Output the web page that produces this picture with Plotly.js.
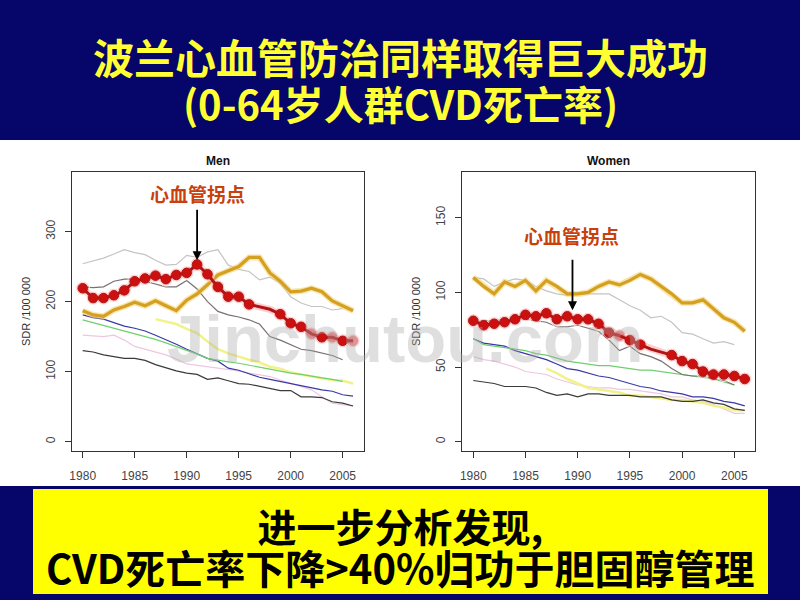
<!DOCTYPE html>
<html><head><meta charset="utf-8">
<script src="https://cdn.plot.ly/plotly-3.0.1.min.js"></script>
<style>body{margin:0;background:#fff}#chart{width:800px;height:600px}</style>
</head><body><div id="chart"></div>
<script>
// ---------- data ----------
const years = [1980,1981,1982,1983,1984,1985,1986,1987,1988,1989,1990,1991,1992,1993,1994,1995,1996,1997,1998,1999,2000,2001,2002,2003,2004,2005,2006];
const xTicks = [1980,1985,1990,1995,2000,2005];
const menYTicks = [0,100,200,300];
const womenYTicks = [0,50,100,150];

// Men (SDR per 100 000)
const menPoland   = [219,205,205,209,216,229,233,237,232,238,241,253,239,221,207,207,196,193,189,182,169,164,154,149,149,144,144];
const menOrange   = [187,181,179,188,193,199,194,201,194,187,202,211,224,238,244,250,263,263,241,229,214,215,219,214,201,194,187];
const menLtGray   = [254,258,262,268,274,270,267,259,252,253,266,263,271,274,252,246,243,231,235,226,207,198,193,193,188,190,null];
const menDkGray   = [221,220,221,229,232,232,229,225,221,221,230,218,200,186,181,178,174,168,150,145,138,132,130,126,123,117,null];
const menYellow   = [null,null,null,null,null,null,null,175,172,168,161,155,143,132,126,121,117,113,107,104,99,96,93,91,88,87,83];
const menGreen    = [174,170,166,162,158,155,151,146,141,136,131,125,119,116,114,112,109,106,103,101,98,96,93,91,89,86,null];
const menBlue     = [181,177,175,170,165,162,158,152,146,139,132,126,119,115,105,102,97,92,89,86,82,79,76,74,72,67,65];
const menPink     = [152,151,150,152,145,136,132,128,124,118,111,109,107,105,104,101,98,95,93,88,83,79,74,64,55,53,51];
const menBlack    = [130,128,124,122,119,119,116,110,105,101,98,96,89,91,87,83,82,79,76,73,73,64,64,63,57,55,51];

// Women (SDR per 100 000)
const womenPoland = [81,78,79,80,82,85,84,86,82,84,82,82,79,73,71,68,65,62,60,58,54,52,47,45,45,44,42];
const womenOrange = [110,104,99,107,104,108,101,108,104,99,99,100,104,107,105,108,112,109,104,99,93,93,95,89,83,80,74];
const womenLtGray = [110,109,104,107,109,108,104,101,99,98,99,99,99,99,95,91,88,83,84,80,73,72,69,66,67,65,null];
const womenDkGray = [80,81,81,82,82,82,81,80,77,77,78,76,74,68,61,64,59,57,54,49,45,44,44,42,41,38,null];
const womenGreen  = [69,65,64,63,62,61,59,58,56,54,53,52,51,51,50,49,48,48,47,46,45,44,43,42,40,38,null];
const womenBlue   = [69,66,65,64,61,59,57,55,52,49,48,46,44,43,41,39,37,36,34,33,32,30,30,29,27,26,24];
const womenPink   = [57,55,54,52,50,47,46,45,42,40,38,37,36,36,35,35,34,33,32,30,30,28,27,25,22,19,19];
const womenYellow = [null,null,null,null,null,null,null,49,46,42,39,36,35,34,33,31,31,30,29,28,28,27,26,24,23,21,21];
const womenBlack  = [41,40,39,37,37,37,36,33,31,32,30,32,32,31,31,31,30,30,30,28,27,27,28,26,25,22,21];

const menPeakYear = 1991, womenPeakYear = 1989.5;
const labelTurn = '心血管拐点';
const titleLines = ['波兰心血管防治同样取得巨大成功', '(0-64岁人群CVD死亡率)'];
const noteLines = ['进一步分析发现,', 'CVD死亡率下降>40%归功于胆固醇管理'];

// ---------- drawing ----------
function ln(y, color, width, xa, ya) {
  return {x: years, y: y, type: 'scatter', mode: 'lines', xaxis: xa, yaxis: ya,
    line: {color: color, width: width}, hoverinfo: 'skip', connectgaps: false};
}
function polandTraces(y, xa, ya, fadedYears) {
  const noDot = [1997, 1998];
  const sizes = years.map(v => noDot.includes(v) ? 0 : 9.5);
  const glow = years.map(v => noDot.includes(v) ? 0 : 14);
  const op = years.map(v => fadedYears.includes(v) ? 0.35 : 1);
  return [
    {x: years, y: y, type: 'scatter', mode: 'lines', xaxis: xa, yaxis: ya,
      line: {color: 'rgba(255,130,130,0.4)', width: 7}, hoverinfo: 'skip'},
    {x: years, y: y, type: 'scatter', mode: 'markers', xaxis: xa, yaxis: ya,
      marker: {size: glow, color: 'rgba(255,110,110,0.45)'}, hoverinfo: 'skip'},
    {x: years, y: y, type: 'scatter', mode: 'lines+markers', xaxis: xa, yaxis: ya,
      line: {color: '#b01515', width: 3},
      marker: {size: sizes, color: '#cc1010', opacity: op}, hoverinfo: 'skip'}
  ];
}
function group(d, xa, ya, faded) {
  return [
    ln(d.ltgray, '#c4c4c4', 1.2, xa, ya),
    ln(d.pink, '#efc6e0', 1.2, xa, ya),
    ln(d.yellow, '#f2f28a', 2.5, xa, ya),
    ln(d.black, '#3a3a3a', 1.2, xa, ya),
    ln(d.blue, '#3838a8', 1.2, xa, ya),
    ln(d.green, '#6fcf6f', 1.2, xa, ya),
    ln(d.dkgray, '#7a7070', 1.2, xa, ya),
    ln(d.orange, 'rgba(245,210,120,0.6)', 6, xa, ya),
    ln(d.orange, '#d4a020', 3.2, xa, ya),
    ...polandTraces(d.poland, xa, ya, faded)
  ];
}
const data = [
  ...group({ltgray: menLtGray, pink: menPink, yellow: menYellow, black: menBlack, blue: menBlue,
            green: menGreen, dkgray: menDkGray, orange: menOrange, poland: menPoland}, 'x', 'y', [2002, 2004, 2006]),
  ...group({ltgray: womenLtGray, pink: womenPink, yellow: womenYellow, black: womenBlack, blue: womenBlue,
            green: womenGreen, dkgray: womenDkGray, orange: womenOrange, poland: womenPoland}, 'x2', 'y2', [1994])
];

const tickFont = {family: 'Liberation Sans, Arial, sans-serif', size: 12, color: '#444'};
function xax(domain, range, anchor) {
  return {domain: domain, range: range, anchor: anchor, tickvals: xTicks, ticks: 'outside', ticklen: 6,
    tickcolor: '#333', showline: true, mirror: true, linecolor: '#333', linewidth: 1, showgrid: false,
    zeroline: false, tickfont: tickFont, ticklabelstandoff: 8, fixedrange: true};
}
function yax(domain, range, anchor, tv) {
  return {domain: domain, range: range, anchor: anchor, tickvals: tv, ticks: 'outside', ticklen: 6,
    tickcolor: '#333', showline: true, mirror: true, linecolor: '#333', linewidth: 1, showgrid: false,
    zeroline: false, tickangle: -90, tickfont: tickFont, ticklabelstandoff: 5, fixedrange: true,
    title: {text: 'SDR /100 000', font: {family: 'Liberation Sans, Arial, sans-serif', size: 11, color: '#333'}, standoff: 11}};
}
const yDom = [1 - 451/600, 1 - 172/600];
const navy = '#05056a';
const cjk = '"Noto Sans CJK SC", sans-serif';

const layout = {
  width: 800, height: 600, margin: {l: 0, r: 0, t: 0, b: 0},
  paper_bgcolor: '#ffffff', plot_bgcolor: '#ffffff', showlegend: false,
  xaxis: xax([72/800, 364/800], [1978.97, 2007.05], 'y'),
  yaxis: yax(yDom, [-13.3, 385], 'x', menYTicks),
  xaxis2: xax([462/800, 755/800], [1978.92, 2006.98], 'y2'),
  yaxis2: yax(yDom, [-6.2, 180.6], 'x2', womenYTicks),
  shapes: [
    {type: 'rect', xref: 'paper', yref: 'paper', x0: 0, x1: 1, y0: 1 - 140/600, y1: 1, fillcolor: navy, line: {width: 0}, layer: 'below'},
    {type: 'rect', xref: 'paper', yref: 'paper', x0: 0, x1: 1, y0: 0, y1: 1 - 486/600, fillcolor: navy, line: {width: 0}, layer: 'below'},
    {type: 'rect', xref: 'paper', yref: 'paper', x0: 33/800, x1: 768/800, y0: 1 - 594/600, y1: 1 - 489/600, fillcolor: '#ffff00', line: {width: 0}, layer: 'below'}
  ],
  annotations: [
    {xref: 'paper', yref: 'paper', x: 0.5, y: 1 - 79/600,
      text: '<b><span style="font-size:41px">' + titleLines[0] + '</span><br><span style="font-size:40px">' + titleLines[1] + '</span></b>',
      showarrow: false, font: {family: cjk, size: 35, color: '#ffff33'}, xanchor: 'center', yanchor: 'middle'},
    {xref: 'paper', yref: 'paper', x: 0.5, y: 1 - 546/600,
      text: '<b><span style="font-size:39px">' + noteLines[0] + '</span><br><span style="font-size:40px">' + noteLines[1] + '</span></b>',
      showarrow: false, font: {family: cjk, size: 32, color: '#000'}, xanchor: 'center', yanchor: 'middle'},
    {xref: 'paper', yref: 'paper', x: 218/800, y: 1 - 161/600, text: '<b>Men</b>', showarrow: false,
      font: {family: 'Liberation Sans, Arial, sans-serif', size: 12, color: '#111'}, xanchor: 'center', yanchor: 'middle'},
    {xref: 'paper', yref: 'paper', x: 608/800, y: 1 - 161/600, text: '<b>Women</b>', showarrow: false,
      font: {family: 'Liberation Sans, Arial, sans-serif', size: 12, color: '#111'}, xanchor: 'center', yanchor: 'middle'},
    {xref: 'x', yref: 'y', x: menPeakYear, y: 355, text: '<b>' + labelTurn + '</b>', showarrow: false,
      font: {family: cjk, size: 19, color: '#c8400c'}, xanchor: 'center', yanchor: 'middle'},
    {xref: 'x', yref: 'y', x: menPeakYear, y: 259, text: '', showarrow: true, ax: 0, ay: -52,
      arrowhead: 2, arrowsize: 1, arrowwidth: 1.8, arrowcolor: '#000'},
    {xref: 'x2', yref: 'y2', x: 1989.4, y: 138.4, text: '<b>' + labelTurn + '</b>', showarrow: false,
      font: {family: cjk, size: 19, color: '#c8400c'}, xanchor: 'center', yanchor: 'middle'},
    {xref: 'x2', yref: 'y2', x: womenPeakYear, y: 88, text: '', showarrow: true, ax: 0, ay: -52,
      arrowhead: 2, arrowsize: 1, arrowwidth: 1.8, arrowcolor: '#000'},
    {xref: 'paper', yref: 'paper', x: 405/800, y: 1 - 338/600, text: '<b>Jinchutou.com</b>', showarrow: false,
      font: {family: 'Liberation Sans, Arial, sans-serif', size: 67, color: 'rgba(170,170,170,0.38)'}, xanchor: 'center', yanchor: 'middle'}
  ]
};
Plotly.newPlot('chart', data, layout, {staticPlot: true, displayModeBar: false});
</script></body></html>
